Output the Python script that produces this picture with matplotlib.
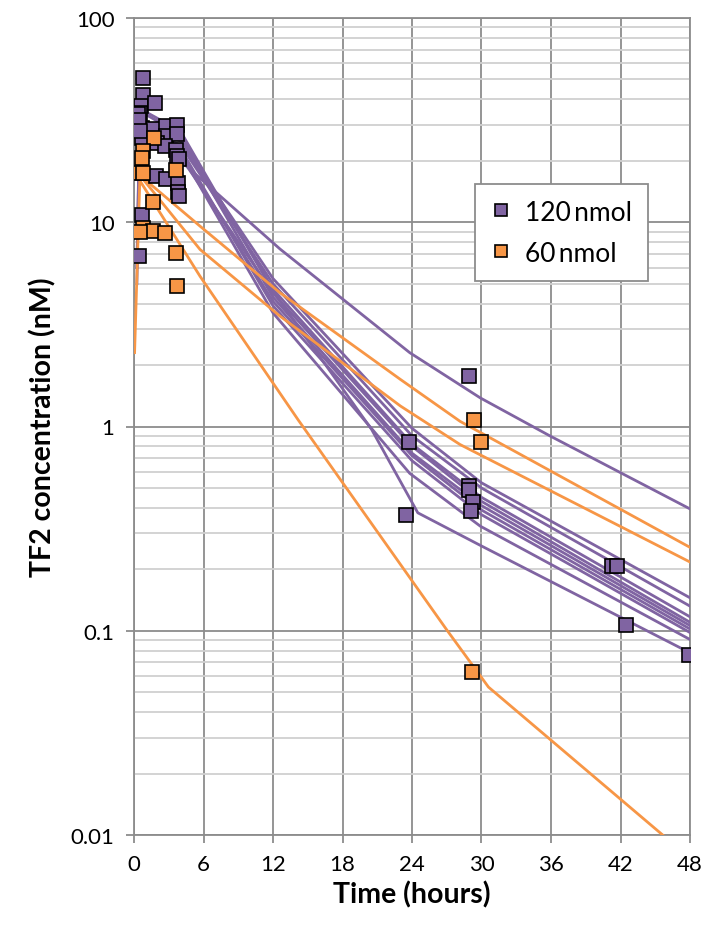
import matplotlib
matplotlib.use("Agg")
import matplotlib.pyplot as plt
from matplotlib.ticker import FixedLocator, NullFormatter, LogLocator
from matplotlib.lines import Line2D

# 观测数据 (120 nmol)
purple_t = [0.78, 0.78, 0.63, 1.78, 0.49, 0.37, 0.66, 0.66, 1.67, 2.8, 3.7, 2.8,
            3.7, 1.95, 2.7, 3.65, 3.75, 3.86, 1.9, 2.8, 3.83, 3.83, 3.86, 0.69,
            0.45, 0.45, 0.55, 23.7, 23.5, 28.9, 28.9, 28.9, 29.3, 29.1, 41.25,
            41.7, 42.45, 47.95]
purple_v = [50.6, 42, 37, 38.5, 34.3, 33.7, 29, 25.9, 28.5, 29.5, 30, 26.4,
            27, 24.5, 23.6, 22.7, 21.2, 20.3, 16.8, 16.2, 15.6, 14.0, 13.4, 10.8,
            6.8, 31.5, 28.0, 0.838, 0.367, 1.76, 0.51, 0.49, 0.426, 0.385, 0.207,
            0.207, 0.107, 0.076]

# 观测数据 (60 nmol)
orange_t = [1.73, 0.78, 0.69, 0.49, 0.78, 3.65, 1.64, 0.75, 1.67, 2.68, 3.63,
            3.69, 0.55, 29.36, 30.0, 29.2]
orange_v = [25.9, 22.3, 20.7, 17.5, 17.5, 18.1, 12.5, 9.4, 9.04, 8.87, 7.08,
            4.9, 9.0, 1.07, 0.838, 0.063]

# 模型预测曲线 (120 nmol)
purple_lines_t = [
    [0.25, 0.5, 4, 12.6, 23.8, 29.9, 35.9, 48],
    [0.25, 0.5, 4, 12, 24, 30, 48],
    [0.5, 4, 12, 24, 30, 48],
    [0.5, 4, 12, 24, 30, 48],
    [0.5, 4, 12, 24, 30, 48],
    [0.5, 4, 12, 24, 30, 48],
    [0.5, 4, 12, 24, 30, 48],
    [0.5, 4, 12, 24, 30, 48],
    [0.5, 4, 12, 23.8, 29.9, 48],
    [0.25, 0.5, 4, 12, 20.5, 24.5, 30, 48],
]
purple_lines_v = [
    [6, 33, 20, 7.4, 2.3, 1.38, 0.9, 0.395],
    [5, 30, 25, 5.3, 0.98, 0.53, 0.145],
    [28, 24, 5.0, 0.90, 0.50, 0.132],
    [35, 27, 4.7, 0.82, 0.45, 0.117],
    [26, 21, 4.5, 0.80, 0.43, 0.110],
    [32, 26, 4.3, 0.74, 0.41, 0.106],
    [24, 22, 4.1, 0.72, 0.39, 0.102],
    [29, 23, 3.9, 0.68, 0.37, 0.098],
    [27, 22, 3.6, 0.59, 0.325, 0.0906],
    [6, 36, 28, 4.6, 0.97, 0.378, 0.26, 0.078],
]

# 模型预测曲线 (60 nmol)
orange_lines_t = [
    [0.5, 5.7, 12.6, 23, 28.15, 48],
    [0.5, 5.7, 12.6, 23, 28.15, 48],
    [0.05, 0.5, 5.7, 14.16, 27, 30.6, 48],
]
orange_lines_v = [
    [17, 9.57, 4.52, 1.70, 1.06, 0.256],
    [17, 7.36, 3.47, 1.26, 0.816, 0.217],
    [2.3, 16, 5.44, 1.08, 0.101, 0.053, 0.0077],
]

x_ticks = [0, 6, 12, 18, 24, 30, 36, 42, 48]
y_ticks = [0.01, 0.1, 1, 10, 100]
y_labels = ["0.01", "0.1", "1", "10", "100"]

purple = "#8064A2"
orange = "#F79646"

plt.rcParams['font.family'] = ['Lato', 'DejaVu Sans']

fig = plt.figure(figsize=(7.06, 9.28), dpi=100)
ax = fig.add_axes([134 / 706, 1 - 836 / 928, 556 / 706, 817 / 928])

for tt, vv in zip(purple_lines_t, purple_lines_v):
    ax.plot(tt, vv, color=purple, lw=2, zorder=3, solid_joinstyle='round')
for tt, vv in zip(orange_lines_t, orange_lines_v):
    ax.plot(tt, vv, color=orange, lw=2, zorder=3, solid_joinstyle='round')

ax.plot(purple_t, purple_v, ls='none', marker='s', ms=10, mfc=purple,
        mec='black', mew=1.2, zorder=4)
ax.plot(orange_t, orange_v, ls='none', marker='s', ms=10, mfc=orange,
        mec='black', mew=1.2, zorder=5)

ax.set_yscale('log')
ax.set_xlim(0, 48)
ax.set_ylim(0.01, 100)
ax.set_xticks(x_ticks)
ax.set_xticklabels([str(x) for x in x_ticks])
ax.yaxis.set_major_locator(FixedLocator(y_ticks))
ax.set_yticklabels(y_labels)
ax.yaxis.set_minor_locator(LogLocator(base=10, subs=range(2, 10)))
ax.yaxis.set_minor_formatter(NullFormatter())

# 网格
ax.grid(True, which='major', axis='both', color='#8c8c8c', lw=1.3, zorder=0)
ax.grid(True, which='minor', axis='y', color='#d0d0d0', lw=1.3, zorder=0)
ax.set_axisbelow(True)

for s in ax.spines.values():
    s.set_color('#8c8c8c')
    s.set_linewidth(1.3)

ax.tick_params(axis='both', which='major', labelsize=16, length=6,
               color='#8c8c8c', width=1.3, pad=8)
ax.tick_params(axis='y', which='minor', length=0)

ax.set_xlabel('Time (hours)', fontsize=20.5, fontweight='bold', labelpad=4)
ax.set_ylabel('TF2 concentration (nM)', fontsize=20.5, fontweight='bold',
              labelpad=10)

handles = [
    Line2D([], [], ls='none', marker='s', ms=9, mfc=purple, mec='black',
           mew=1.2, label='120\u2009nmol'),
    Line2D([], [], ls='none', marker='s', ms=9, mfc=orange, mec='black',
           mew=1.2, label='60\u2009nmol'),
]
leg = ax.legend(handles=handles, loc='upper left',
                bbox_to_anchor=(0.613, 0.797), fontsize=19, frameon=True,
                fancybox=False, edgecolor='#8c8c8c', framealpha=1,
                handletextpad=0.5, labelspacing=0.6, borderpad=0.6,
                handlelength=0.8, borderaxespad=0)
leg.get_frame().set_linewidth(1.3)

plt.savefig('out.png', dpi=100)
plt.close()
